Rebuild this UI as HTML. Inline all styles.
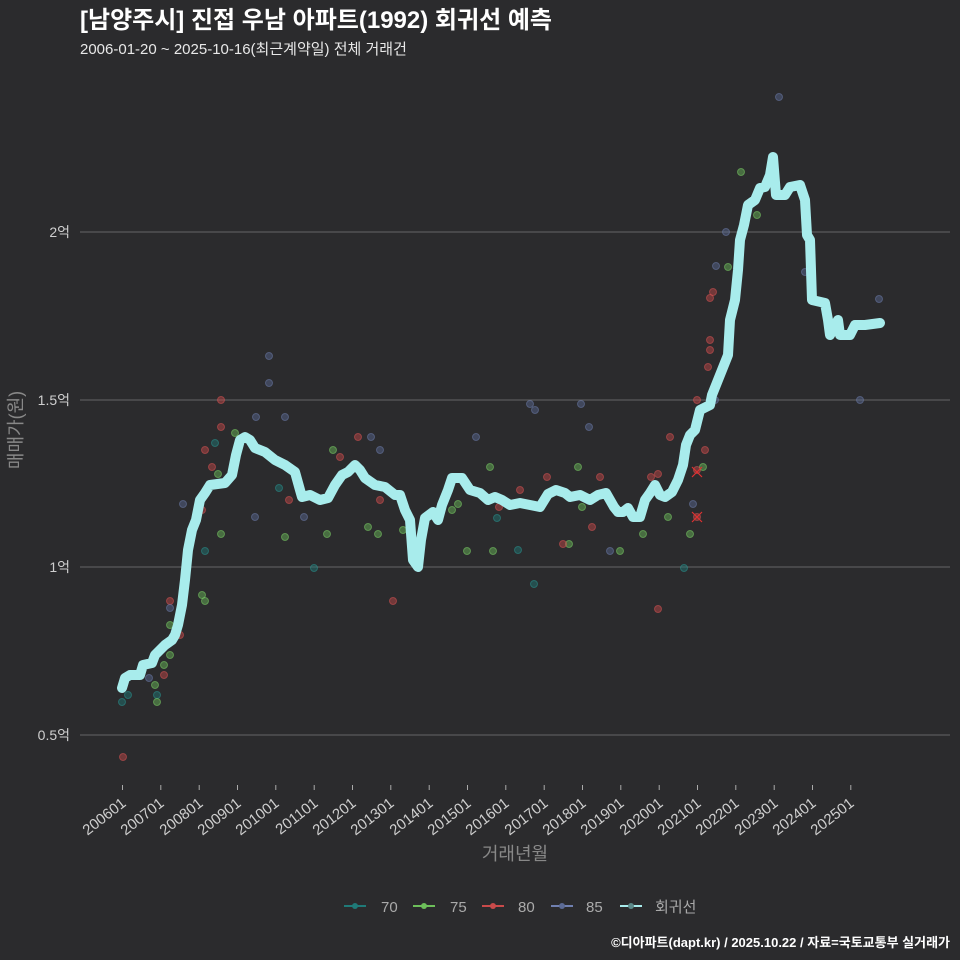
<!DOCTYPE html>
<html><head><meta charset="utf-8"><style>
html,body{margin:0;padding:0;background:#2b2b2d;}
svg{display:block;font-family:"Liberation Sans","Noto Sans CJK KR",sans-serif;}
</style></head><body>
<svg width="960" height="960" viewBox="0 0 960 960" xmlns="http://www.w3.org/2000/svg">
<rect width="960" height="960" fill="#2b2b2d"/>
<text x="80" y="28" font-size="24" font-weight="bold" fill="#ffffff">[남양주시] 진접 우남 아파트(1992) 회귀선 예측</text>
<text x="80" y="54" font-size="15" fill="#e8e8e8">2006-01-20 ~ 2025-10-16(최근계약일) 전체 거래건</text>
<g stroke="#666" stroke-width="1">
<line x1="80" y1="232" x2="950" y2="232"/><line x1="80" y1="400" x2="950" y2="400"/>
<line x1="80" y1="567" x2="950" y2="567"/><line x1="80" y1="735" x2="950" y2="735"/>
</g>
<g font-size="14" fill="#cfcfcf" text-anchor="end">
<text x="70" y="237">2억</text><text x="70" y="405">1.5억</text><text x="70" y="572">1억</text><text x="70" y="740">0.5억</text>
</g>
<text transform="translate(22,430) rotate(-90)" font-size="18" fill="#888" text-anchor="middle">매매가(원)</text>
<g fill-opacity="0.45" stroke-opacity="0.5" stroke-width="1">
<g fill="#1f7a78" stroke="#2a9a96">
<circle cx="122" cy="702" r="3.5"/><circle cx="128" cy="695" r="3.5"/><circle cx="157" cy="695" r="3.5"/><circle cx="215" cy="443" r="3.5"/><circle cx="205" cy="551" r="3.5"/><circle cx="279" cy="488" r="3.5"/><circle cx="314" cy="568" r="3.5"/><circle cx="518" cy="550" r="3.5"/><circle cx="534" cy="584" r="3.5"/><circle cx="684" cy="568" r="3.5"/><circle cx="497" cy="518" r="3.5"/>
</g>
<g fill="#6dbf5a" stroke="#80d86a">
<circle cx="155" cy="685" r="3.5"/><circle cx="157" cy="702" r="3.5"/><circle cx="164" cy="665" r="3.5"/><circle cx="170" cy="655" r="3.5"/><circle cx="170" cy="625" r="3.5"/><circle cx="202" cy="595" r="3.5"/><circle cx="205" cy="601" r="3.5"/><circle cx="221" cy="534" r="3.5"/><circle cx="218" cy="474" r="3.5"/><circle cx="235" cy="433" r="3.5"/><circle cx="285" cy="537" r="3.5"/><circle cx="327" cy="534" r="3.5"/><circle cx="333" cy="450" r="3.5"/><circle cx="368" cy="527" r="3.5"/><circle cx="378" cy="534" r="3.5"/><circle cx="403" cy="530" r="3.5"/><circle cx="452" cy="510" r="3.5"/><circle cx="458" cy="504" r="3.5"/><circle cx="467" cy="551" r="3.5"/><circle cx="490" cy="467" r="3.5"/><circle cx="493" cy="551" r="3.5"/><circle cx="569" cy="544" r="3.5"/><circle cx="578" cy="467" r="3.5"/><circle cx="582" cy="507" r="3.5"/><circle cx="620" cy="551" r="3.5"/><circle cx="643" cy="534" r="3.5"/><circle cx="668" cy="517" r="3.5"/><circle cx="690" cy="534" r="3.5"/><circle cx="703" cy="467" r="3.5"/><circle cx="728" cy="267" r="3.5"/><circle cx="741" cy="172" r="3.5"/><circle cx="757" cy="215" r="3.5"/>
</g>
<g fill="#c94a4a" stroke="#e05555">
<circle cx="123" cy="757" r="3.5"/><circle cx="164" cy="675" r="3.5"/><circle cx="170" cy="601" r="3.5"/><circle cx="180" cy="635" r="3.5"/><circle cx="202" cy="510" r="3.5"/><circle cx="205" cy="450" r="3.5"/><circle cx="212" cy="467" r="3.5"/><circle cx="221" cy="400" r="3.5"/><circle cx="221" cy="427" r="3.5"/><circle cx="289" cy="500" r="3.5"/><circle cx="358" cy="437" r="3.5"/><circle cx="393" cy="601" r="3.5"/><circle cx="380" cy="500" r="3.5"/><circle cx="340" cy="457" r="3.5"/><circle cx="499" cy="507" r="3.5"/><circle cx="520" cy="490" r="3.5"/><circle cx="547" cy="477" r="3.5"/><circle cx="563" cy="544" r="3.5"/><circle cx="592" cy="527" r="3.5"/><circle cx="600" cy="477" r="3.5"/><circle cx="651" cy="477" r="3.5"/><circle cx="658" cy="474" r="3.5"/><circle cx="658" cy="609" r="3.5"/><circle cx="670" cy="437" r="3.5"/><circle cx="697" cy="470" r="3.5"/><circle cx="697" cy="517" r="3.5"/><circle cx="697" cy="400" r="3.5"/><circle cx="705" cy="450" r="3.5"/><circle cx="708" cy="367" r="3.5"/><circle cx="710" cy="340" r="3.5"/><circle cx="710" cy="350" r="3.5"/><circle cx="710" cy="298" r="3.5"/><circle cx="713" cy="292" r="3.5"/>
</g>
<g fill="#5c6b96" stroke="#7080b0">
<circle cx="149" cy="678" r="3.5"/><circle cx="170" cy="608" r="3.5"/><circle cx="183" cy="504" r="3.5"/><circle cx="255" cy="517" r="3.5"/><circle cx="256" cy="417" r="3.5"/><circle cx="269" cy="356" r="3.5"/><circle cx="269" cy="383" r="3.5"/><circle cx="285" cy="417" r="3.5"/><circle cx="304" cy="517" r="3.5"/><circle cx="371" cy="437" r="3.5"/><circle cx="380" cy="450" r="3.5"/><circle cx="476" cy="437" r="3.5"/><circle cx="530" cy="404" r="3.5"/><circle cx="535" cy="410" r="3.5"/><circle cx="581" cy="404" r="3.5"/><circle cx="589" cy="427" r="3.5"/><circle cx="610" cy="551" r="3.5"/><circle cx="693" cy="504" r="3.5"/><circle cx="715" cy="400" r="3.5"/><circle cx="716" cy="266" r="3.5"/><circle cx="726" cy="232" r="3.5"/><circle cx="779" cy="97" r="3.5"/><circle cx="805" cy="272" r="3.5"/><circle cx="860" cy="400" r="3.5"/><circle cx="879" cy="299" r="3.5"/>
</g>
</g>
<g stroke="#e03030" stroke-width="1.2"><path d="M692 467 l10 10 M702 467 l-10 10 M692 512 l10 10 M702 512 l-10 10"/></g>
<polyline fill="none" stroke="#a8ecec" stroke-width="10" stroke-linejoin="round" stroke-linecap="round" points="122,688 125,678 130,675 140,675 143,665 152,663 155,655 165,645 172,640 175,635 178,625 182,605 185,580 188,550 192,530 196,520 200,500 205,493 210,485 225,483 232,475 236,455 240,440 245,437 250,440 255,448 265,452 275,460 285,465 295,472 300,490 302,497 310,495 320,500 328,498 335,485 342,475 348,472 355,465 360,470 365,478 375,485 385,487 395,495 400,495 405,510 410,520 413,560 418,567 421,540 425,518 433,512 438,520 442,505 448,490 452,478 462,478 470,490 480,493 488,500 495,497 502,500 510,505 520,503 530,505 540,507 548,494 556,490 565,493 570,497 580,495 590,500 598,495 606,493 614,507 618,512 623,512 628,508 633,517 640,517 645,500 650,493 655,485 660,495 665,497 672,492 678,480 683,465 686,445 690,435 695,430 700,410 710,405 712,395 718,380 724,365 728,355 730,320 735,300 738,270 740,240 744,225 748,205 755,200 760,188 765,187 770,175 773,157 776,195 785,195 790,187 800,185 805,200 807,235 810,240 812,300 825,303 828,320 830,335 838,320 840,335 850,335 855,325 865,325 880,323"/>
<g stroke="#aaa" stroke-width="1">
<line x1="122.5" y1="785" x2="122.5" y2="790"/><line x1="160.8" y1="785" x2="160.8" y2="790"/><line x1="199.2" y1="785" x2="199.2" y2="790"/><line x1="237.5" y1="785" x2="237.5" y2="790"/><line x1="275.8" y1="785" x2="275.8" y2="790"/><line x1="314.2" y1="785" x2="314.2" y2="790"/><line x1="352.5" y1="785" x2="352.5" y2="790"/><line x1="390.8" y1="785" x2="390.8" y2="790"/><line x1="429.2" y1="785" x2="429.2" y2="790"/><line x1="467.5" y1="785" x2="467.5" y2="790"/><line x1="505.8" y1="785" x2="505.8" y2="790"/><line x1="544.2" y1="785" x2="544.2" y2="790"/><line x1="582.5" y1="785" x2="582.5" y2="790"/><line x1="620.8" y1="785" x2="620.8" y2="790"/><line x1="659.2" y1="785" x2="659.2" y2="790"/><line x1="697.5" y1="785" x2="697.5" y2="790"/><line x1="735.8" y1="785" x2="735.8" y2="790"/><line x1="774.2" y1="785" x2="774.2" y2="790"/><line x1="812.5" y1="785" x2="812.5" y2="790"/><line x1="850.8" y1="785" x2="850.8" y2="790"/>
</g>
<g font-size="15" fill="#cfcfcf" text-anchor="end">
<text transform="translate(127,805) rotate(-38)">200601</text><text transform="translate(165,805) rotate(-38)">200701</text><text transform="translate(204,805) rotate(-38)">200801</text><text transform="translate(242,805) rotate(-38)">200901</text><text transform="translate(280,805) rotate(-38)">201001</text><text transform="translate(319,805) rotate(-38)">201101</text><text transform="translate(357,805) rotate(-38)">201201</text><text transform="translate(395,805) rotate(-38)">201301</text><text transform="translate(434,805) rotate(-38)">201401</text><text transform="translate(472,805) rotate(-38)">201501</text><text transform="translate(510,805) rotate(-38)">201601</text><text transform="translate(549,805) rotate(-38)">201701</text><text transform="translate(587,805) rotate(-38)">201801</text><text transform="translate(625,805) rotate(-38)">201901</text><text transform="translate(664,805) rotate(-38)">202001</text><text transform="translate(702,805) rotate(-38)">202101</text><text transform="translate(740,805) rotate(-38)">202201</text><text transform="translate(779,805) rotate(-38)">202301</text><text transform="translate(817,805) rotate(-38)">202401</text><text transform="translate(855,805) rotate(-38)">202501</text>
</g>
<text x="515" y="860" font-size="18" fill="#888" text-anchor="middle">거래년월</text>
<g font-size="15" fill="#aaa">
<line x1="344" y1="906" x2="366" y2="906" stroke="#1f7a78" stroke-width="2"/><circle cx="355" cy="906" r="3" fill="#1f7a78"/><text x="381" y="912">70</text>
<line x1="413" y1="906" x2="435" y2="906" stroke="#6dbf5a" stroke-width="2"/><circle cx="424" cy="906" r="3" fill="#6dbf5a"/><text x="450" y="912">75</text>
<line x1="482" y1="906" x2="504" y2="906" stroke="#c94a4a" stroke-width="2"/><circle cx="493" cy="906" r="3" fill="#c94a4a"/><text x="518" y="912">80</text>
<line x1="551" y1="906" x2="573" y2="906" stroke="#7080b0" stroke-width="2"/><circle cx="562" cy="906" r="3" fill="#5c6b96"/><text x="586" y="912">85</text>
<line x1="620" y1="906" x2="642" y2="906" stroke="#a8ecec" stroke-width="2"/><circle cx="631" cy="906" r="3" fill="#5c8a8a"/><text x="655" y="912">회귀선</text>
</g>
<text x="950" y="947" font-size="13" font-weight="bold" fill="#ffffff" text-anchor="end">©디아파트(dapt.kr) / 2025.10.22 / 자료=국토교통부 실거래가</text>
</svg>
</body></html>
